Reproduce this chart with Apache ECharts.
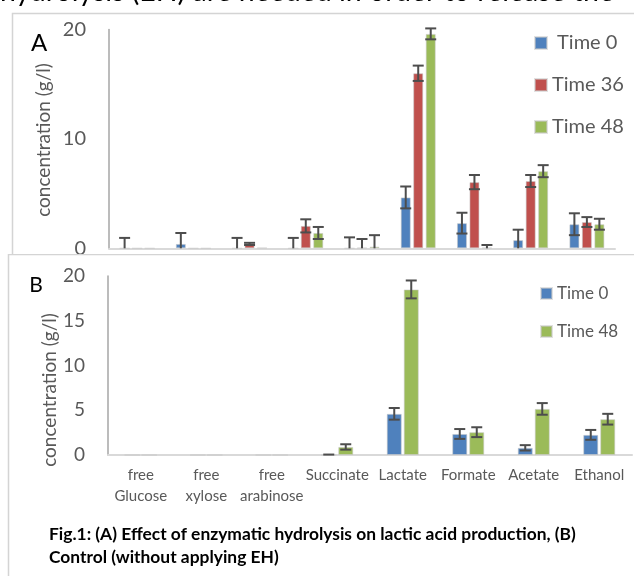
<!DOCTYPE html>
<html>
<head>
<meta charset="utf-8">
<script src="https://cdn.jsdelivr.net/npm/echarts@6/dist/echarts.min.js"></script>
<style>
  html, body { margin: 0; padding: 0; background: #ffffff; }
  #wrap { position: relative; width: 634px; height: 576px; overflow: hidden; background: #fff; }
  #chartA { position: absolute; left: 0; top: 0; width: 634px; height: 260px; }
  #chartB { position: absolute; left: 0; top: 254px; width: 634px; height: 322px; }
</style>
</head>
<body>
<div id="wrap">
  <div id="chartA"></div>
  <div id="chartB"></div>
</div>
<script>
// ---------- Panel A (with enzymatic hydrolysis) ----------
// x-axis labels of panel A are hidden under panel B in the source image
const categoriesA = ['free Glucose', 'free xylose', 'free arabinose', 'Succinate', '(hidden)', 'Lactate', 'Formate', 'Acetate', 'Ethanol'];
const seriesNamesA = [' Time 0', 'Time 36', 'Time 48'];
const a_time0  = [0,    0.4,  0,    0,    0,    4.65, 2.3,  0.75, 2.2];
const a_time36 = [0,    0,    0.4,  2.05, 0.05, 16.0, 6.05, 6.15, 2.4];
const a_time48 = [0,    0,    0.05, 1.4,  0.15, 19.6, 0.05, 7.05, 2.2];
const a_err0   = [0.95, 1.0,  0.95, 0.95, 1.0,  1.0,  0.95, 0.95, 1.0];
const a_err36  = [0,    0,    0.1,  0.6,  0.8,  0.7,  0.65, 0.55, 0.45];
const a_err48  = [0,    0,    0,    0.55, 1.05, 0.5,  0.25, 0.55, 0.5];
const ticksA   = [0, 10, 20];

// ---------- Panel B (control, without EH) ----------
const categoriesB = ['free Glucose', 'free xylose', 'free arabinose', 'Succinate', 'Lactate', 'Formate', 'Acetate', 'Ethanol'];
const seriesNamesB = ['Time 0', 'Time 48'];
const b_time0  = [0, 0, 0, 0,   4.6,  2.35, 0.8,  2.25];
const b_time48 = [0, 0, 0, 0.9, 18.5, 2.55, 5.15, 4.0];
const b_err0   = [0, 0, 0, 0.05, 0.65, 0.55, 0.3,  0.55];
const b_err48  = [0, 0, 0, 0.3,  1.0,  0.55, 0.65, 0.6];
const ticksB   = [0, 5, 10, 15, 20];

const colors = { blue: '#4f81bd', red: '#c0504d', green: '#9bbb59' };
const FONT = 'Lato, "Open Sans", sans-serif';
const GREY_TXT = '#595959';

function errorSeries(name, values, errs, idx, n, barW, gapPx) {
  return {
    type: 'custom',
    name: name,
    z: 5,
    silent: true,
    data: values.map((v, i) => [i, v, errs[i]]),
    renderItem: function (params, api) {
      const i = api.value(0), v = api.value(1), e = api.value(2);
      if (!(e > 0)) return;
      const off = (idx - (n - 1) / 2) * (barW + gapPx);
      const pTop = api.coord([i, v + e]);
      const lowVal = Math.max(0, v - e);
      const pBot = api.coord([i, lowVal]);
      const x = pTop[0] + off;
      const half = 5.5;
      const st = { stroke: '#4d4d4d', lineWidth: 2 };
      const ch = [
        { type: 'line', shape: { x1: x, y1: pTop[1], x2: x, y2: pBot[1] }, style: st },
        { type: 'line', shape: { x1: x - half, y1: pTop[1], x2: x + half, y2: pTop[1] }, style: st }
      ];
      if (v - e >= 0) {
        ch.push({ type: 'line', shape: { x1: x - half, y1: pBot[1], x2: x + half, y2: pBot[1] }, style: st });
      }
      return { type: 'group', children: ch };
    }
  };
}

function barSeries(name, values, color, barW, gapPx) {
  return {
    type: 'bar',
    name: name,
    data: values,
    barWidth: barW,
    barGap: (gapPx / barW * 100) + '%',
    itemStyle: { color: color, borderColor: 'rgba(200,200,200,0.55)', borderWidth: 1 },
    emphasis: { disabled: true },
    z: 2
  };
}

// ----- Chart A -----
const chartA = echarts.init(document.getElementById('chartA'), null, { renderer: 'canvas' });
const barWA = 10, gapA = 2.5;
chartA.setOption({
  animation: false,
  textStyle: { fontFamily: FONT },
  graphic: [
    { type: 'text', left: 0, top: -23, z: 10,
      style: { text: 'hydrolysis (EH) are needed in order to release the', font: '28.5px ' + FONT, fill: '#000' } },
    { type: 'rect', shape: { x: 12.5, y: 13.5, width: 700, height: 400 },
      style: { fill: 'none', stroke: '#d4d4d4', lineWidth: 1.5 }, z: -1 },
    { type: 'text', x: 39, y: 43, z: 10,
      style: { text: 'A', font: '24px ' + FONT, fill: '#000', align: 'center', verticalAlign: 'middle' } },
    { type: 'text', x: 44, y: 140, rotation: Math.PI / 2, z: 10,
      style: { text: 'concentration (g/l)', font: '19px ' + FONT, fill: GREY_TXT, align: 'center', verticalAlign: 'middle' } }
  ],
  legend: {
    data: seriesNamesA,
    orient: 'vertical',
    left: 534, top: 33,
    padding: 0,
    itemWidth: 12, itemHeight: 12,
    itemGap: 22, itemTextGap: 10,
    icon: 'rect',
    selectedMode: false,
    textStyle: { fontSize: 20, color: GREY_TXT, fontFamily: FONT }
  },
  grid: { left: 109, right: 19, top: 29.5, bottom: 11.7, containLabel: false },
  xAxis: {
    type: 'category',
    data: categoriesA,
    axisLine: { lineStyle: { color: '#d9d9d9', width: 2 } },
    axisTick: { show: false },
    axisLabel: { show: false }
  },
  yAxis: {
    type: 'value',
    min: ticksA[0], max: ticksA[ticksA.length - 1], interval: ticksA[1] - ticksA[0],
    axisLine: { show: true, lineStyle: { color: '#a6a6a6', width: 1.5 } },
    axisTick: { show: false },
    splitLine: { show: false },
    axisLabel: { color: GREY_TXT, fontSize: 20, margin: 23, fontFamily: FONT }
  },
  series: [
    barSeries(seriesNamesA[0], a_time0, colors.blue, barWA, gapA),
    barSeries(seriesNamesA[1], a_time36, colors.red, barWA, gapA),
    barSeries(seriesNamesA[2], a_time48, colors.green, barWA, gapA),
    errorSeries('errA0', a_time0, a_err0, 0, 3, barWA, gapA),
    errorSeries('errA36', a_time36, a_err36, 1, 3, barWA, gapA),
    errorSeries('errA48', a_time48, a_err48, 2, 3, barWA, gapA)
  ]
});

// ----- Chart B -----
const chartB = echarts.init(document.getElementById('chartB'), null, { renderer: 'canvas' });
const barWB = 15, gapB = 2;
chartB.setOption({
  animation: false,
  backgroundColor: '#ffffff',
  textStyle: { fontFamily: FONT },
  graphic: [
    { type: 'rect', shape: { x: 8.5, y: 0.5, width: 700, height: 400 },
      style: { fill: 'none', stroke: '#d4d4d4', lineWidth: 1.5 }, z: -1 },
    { type: 'text', x: 36, y: 31, z: 10,
      style: { text: 'B', font: '21px ' + FONT, fill: '#000', align: 'center', verticalAlign: 'middle' } },
    { type: 'text', x: 50, y: 136, rotation: Math.PI / 2, z: 10,
      style: { text: 'concentration (g/l)', font: '19px ' + FONT, fill: GREY_TXT, align: 'center', verticalAlign: 'middle' } },
    { type: 'text', x: 49, y: 280, z: 10,
      style: { text: 'Fig.1: (A) Effect of enzymatic hydrolysis on lactic acid production, (B)', font: 'bold 17.4px ' + FONT, fill: '#000', verticalAlign: 'middle' } },
    { type: 'text', x: 49, y: 303, z: 10,
      style: { text: 'Control (without applying EH)', font: 'bold 17.4px ' + FONT, fill: '#000', verticalAlign: 'middle' } }
  ],
  legend: {
    data: seriesNamesB,
    orient: 'vertical',
    left: 540, top: 31,
    padding: 0,
    itemWidth: 11, itemHeight: 11,
    itemGap: 21, itemTextGap: 8,
    icon: 'rect',
    selectedMode: false,
    textStyle: { fontSize: 17, color: GREY_TXT, fontFamily: FONT }
  },
  grid: { left: 108, right: 2, top: 22, bottom: 121, containLabel: false },
  xAxis: {
    type: 'category',
    data: categoriesB,
    axisLine: { lineStyle: { color: '#d9d9d9', width: 2 } },
    axisTick: { show: false },
    axisLabel: {
      color: GREY_TXT, fontSize: 15, margin: 10, lineHeight: 21, fontFamily: FONT, interval: 0,
      formatter: v => v.indexOf('free ') === 0 ? v.replace(' ', '\n') : v
    }
  },
  yAxis: {
    type: 'value',
    min: ticksB[0], max: ticksB[ticksB.length - 1], interval: ticksB[1] - ticksB[0],
    axisLine: { show: true, lineStyle: { color: '#a6a6a6', width: 1.5 } },
    axisTick: { show: false },
    splitLine: { show: false },
    axisLabel: { color: GREY_TXT, fontSize: 19, margin: 23, fontFamily: FONT }
  },
  series: [
    barSeries(seriesNamesB[0], b_time0, colors.blue, barWB, gapB),
    barSeries(seriesNamesB[1], b_time48, colors.green, barWB, gapB),
    errorSeries('errB0', b_time0, b_err0, 0, 2, barWB, gapB),
    errorSeries('errB48', b_time48, b_err48, 1, 2, barWB, gapB)
  ]
});
</script>
</body>
</html>
